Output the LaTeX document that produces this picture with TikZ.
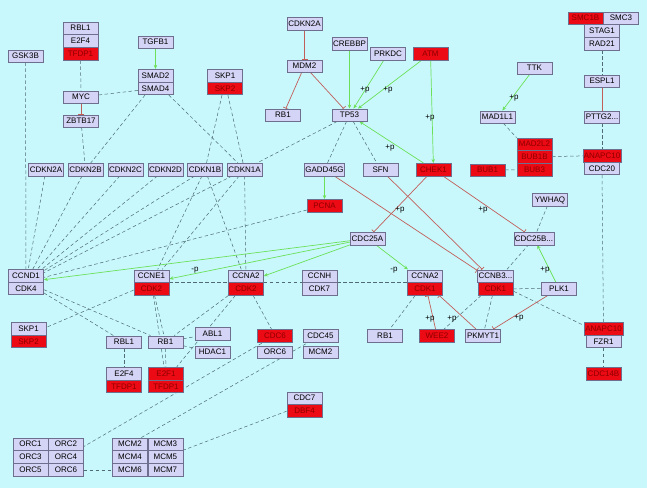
\documentclass[tikz,border=0pt]{standalone}
\usepackage{fontspec}
\setmainfont{Liberation Sans}
\usetikzlibrary{arrows.meta,positioning,fit,backgrounds}
\definecolor{PageCyan}{HTML}{C8F8FC}
\definecolor{GeneFill}{HTML}{D4D4F6}
\definecolor{GeneEdge}{HTML}{6E6E8E}
\definecolor{HitRed}{HTML}{EC0A14}
\definecolor{HitText}{HTML}{8E0000}
\definecolor{ActGreen}{HTML}{6CE058}
\definecolor{InhRed}{HTML}{C25E5A}
\definecolor{LinkGray}{HTML}{4E6C72}

\begin{document}
\begin{tikzpicture}[x=1pt,y=-1pt,
  gene/.style={rectangle,draw=GeneEdge,fill=GeneFill,minimum width=35pt,
               minimum height=12.5pt,inner sep=1pt,text height=5.8pt,
               text depth=0pt,font=\fontsize{8}{9}\selectfont},
  hit/.style={gene,fill=HitRed,text=HitText},
  cplx/.style={rectangle,inner sep=0pt},
  link/.style={LinkGray,dash pattern=on 3.5pt off 2.5pt,line width=0.5pt},
  act/.style={-{Stealth[length=4pt,width=3.5pt]},ActGreen,line width=0.7pt},
  inh/.style={-{Bar[width=6pt]},InhRed,line width=0.7pt},
  plab/.style={font=\fontsize{8}{9}\selectfont,inner sep=0pt}]
\useasboundingbox (0,0) rectangle (647,488);
% upper left
\node[gene] (gskB) at (25.5,56) {GSK3B};
\node[gene] (rblA) at (80.5,28) {RBL1};
\node[gene,below=0pt of rblA] (etfA) {E2F4};
\node[hit,below=0pt of etfA] (tfdpA) {TFDP1};
\node[gene] (tgfb) at (155.5,42) {TGFB1};
\node[gene] (smadB) at (155.5,75.5) {SMAD2};
\node[gene,below=0pt of smadB] (smadD) {SMAD4};
\node[gene] (myc) at (81,97) {MYC};
\node[gene] (zbtb) at (81,121) {ZBTB17};
\node[gene] (skpA) at (225,75.5) {SKP1};
\node[hit,below=0pt of skpA] (skpB) {SKP2};
% upper centre
\node[gene] (cdknT) at (304.5,23.5) {CDKN2A};
\node[gene] (mdm) at (304.5,66) {MDM2};
\node[gene] (rbT) at (283,115) {RB1};
\node[gene] (crebbp) at (349.5,43.5) {CREBBP};
\node[gene] (prkdc) at (388,53.5) {PRKDC};
\node[hit] (atm) at (430.5,53.5) {ATM};
\node[gene] (tp53) at (349.5,115) {TP53};
% upper right
\node[gene] (ttk) at (534.5,68) {TTK};
\node[gene] (mad1) at (497.5,117) {MAD1L1};
\node[hit] (mad2) at (534.5,144) {MAD2L2};
\node[hit,below=0pt of mad2] (bub1b) {BUB1B};
\node[hit,below=0pt of bub1b] (bub3) {BUB3};
\node[hit] (bub1) at (487.5,170) {BUB1};
\node[hit] (smc1b) at (585.5,18) {SMC1B};
\node[gene,right=0pt of smc1b] (smc3) {SMC3};
\node[gene] (stag) at (602,30.9) {STAG1};
\node[gene,below=0pt of stag] (rad) {RAD21};
\node[gene] (espl) at (602,81) {ESPL1};
\node[gene] (pttg) at (602,117) {PTTG2...};
\node[hit] (apcA) at (602,155.5) {ANAPC10};
\node[gene,below=0pt of apcA] (cdc20) {CDC20};
% inhibitor row
\foreach \nm/\xx in {2A/46,2B/85.5,2C/125.5,2D/165.5,1B/205,1A/244.5}
  \node[gene] (cdkn\nm) at (\xx,169.5) {CDKN\nm};
\node[gene] (gadd) at (324.5,169.5) {GADD45G};
\node[gene] (sfn) at (380.5,169.5) {SFN};
\node[hit] (chek) at (433.5,169.5) {CHEK1};
\node[hit] (pcna) at (324.5,205.5) {PCNA};
\node[gene] (ywhaq) at (550,199.5) {YWHAQ};
\node[gene] (cdc25a) at (367.5,238.5) {CDC25A};
\node[gene] (cdc25b) at (534,238.5) {CDC25B...};
% cyclin row
\node[gene] (ccnd) at (26,275.5) {CCND1};
\node[gene,below=0pt of ccnd] (cdk4) {CDK4};
\node[gene] (ccne) at (151.5,276) {CCNE1};
\node[hit,below=0pt of ccne] (cdk2E) {CDK2};
\node[gene] (ccnaL) at (246,276) {CCNA2};
\node[hit,below=0pt of ccnaL] (cdk2A) {CDK2};
\node[gene] (ccnh) at (319.5,276) {CCNH};
\node[gene,below=0pt of ccnh] (cdk7) {CDK7};
\node[gene] (ccnaR) at (425,276) {CCNA2};
\node[hit,below=0pt of ccnaR] (cdk1A) {CDK1};
\node[gene] (ccnb) at (495.5,276) {CCNB3...};
\node[hit,below=0pt of ccnb] (cdk1B) {CDK1};
\node[gene] (plk) at (559,288.5) {PLK1};
% lower part
\node[gene] (skpC) at (28.5,328.5) {SKP1};
\node[hit,below=0pt of skpC] (skpD) {SKP2};
\node[gene] (rblB) at (124,342) {RBL1};
\node[gene] (rbL) at (165.5,342) {RB1};
\node[gene] (abl) at (212.5,333.5) {ABL1};
\node[gene] (hdac) at (212.5,352) {HDAC1};
\node[hit] (cdc6) at (275,335.5) {CDC6};
\node[gene] (orc6) at (275,352) {ORC6};
\node[gene] (cdc45) at (320.5,335.5) {CDC45};
\node[gene] (mcm2) at (320.5,352) {MCM2};
\node[gene] (rbR) at (385,335.5) {RB1};
\node[hit] (wee) at (437,335.5) {WEE2};
\node[gene] (pkmyt) at (483,335.5) {PKMYT1};
\node[hit] (apcB) at (603.5,328.5) {ANAPC10};
\node[gene,below=0pt of apcB] (fzr) {FZR1};
\node[hit] (cdc14) at (603.5,373.5) {CDC14B};
\node[gene] (etfB) at (124,373.5) {E2F4};
\node[hit,below=0pt of etfB] (tfdpB) {TFDP1};
\node[hit] (etfC) at (166,373.5) {E2F1};
\node[hit,below=0pt of etfC] (tfdpC) {TFDP1};
\node[gene] (cdc7) at (304.5,398) {CDC7};
\node[hit,below=0pt of cdc7] (dbf) {DBF4};
% ORC and MCM blocks
\node[gene] (orcA) at (30.5,444) {ORC1};
\node[gene,right=0pt of orcA] (orcB) {ORC2};
\node[gene,below=0pt of orcA] (orcC) {ORC3};
\node[gene,right=0pt of orcC] (orcD) {ORC4};
\node[gene,below=0pt of orcC] (orcE) {ORC5};
\node[gene,right=0pt of orcE] (orcF) {ORC6};
\node[gene] (mcmA) at (130,444) {MCM2};
\node[gene,right=0pt of mcmA] (mcmB) {MCM3};
\node[gene,below=0pt of mcmA] (mcmC) {MCM4};
\node[gene,right=0pt of mcmC] (mcmD) {MCM5};
\node[gene,below=0pt of mcmC] (mcmE) {MCM6};
\node[gene,right=0pt of mcmE] (mcmF) {MCM7};
% complexes
\node[cplx,fit=(rblA)(tfdpA)] (cxRbl) {};
\node[cplx,fit=(smadB)(smadD)] (cxSmad) {};
\node[cplx,fit=(skpA)(skpB)] (cxSkpT) {};
\node[cplx,fit=(mad2)(bub3)] (cxBub) {};
\node[cplx,fit=(ccnd)(cdk4)] (cxD) {};
\node[cplx,fit=(ccne)(cdk2E)] (cxE) {};
\node[cplx,fit=(ccnaL)(cdk2A)] (cxAL) {};
\node[cplx,fit=(ccnh)(cdk7)] (cxH) {};
\node[cplx,fit=(ccnaR)(cdk1A)] (cxAR) {};
\node[cplx,fit=(ccnb)(cdk1B)] (cxB) {};
\node[cplx,fit=(skpC)(skpD)] (cxSkpL) {};
\node[cplx,fit=(apcB)(fzr)] (cxApc) {};
\node[cplx,fit=(etfB)(tfdpB)] (cxE2f4) {};
\node[cplx,fit=(etfC)(tfdpC)] (cxE2f1) {};
\node[cplx,fit=(cdc7)(dbf)] (cx7) {};
% labels
\node[plab] (pPrk) at (365,90) {+p};
\node[plab] (pAtmT) at (388,90) {+p};
\node[plab] (pAtmC) at (430,118) {+p};
\node[plab] (pChkT) at (390,148) {+p};
\node[plab] (pTtk) at (514,98) {+p};
\node[plab] (pChkA) at (400,210) {+p};
\node[plab] (pChkB) at (483,210) {+p};
\node[plab] (pPlk) at (545,270) {+p};
\node[plab] (mE) at (195,270) {-p};
\node[plab] (mR) at (394,270) {-p};
\node[plab] (pWee) at (430,319) {+p};
\node[plab] (pCnb) at (452,319) {+p};
\node[plab] (pPkm) at (519,318) {+p};
\begin{scope}[on background layer]
\fill[PageCyan] (0,0) rectangle (647,488);
% associations
\draw[link] (gskB) -- (cxD);
\draw[link] (tfdpA) -- (myc);
\draw[link] (myc) -- (smadD);
\draw[link] (zbtb) -- (cdkn2B);
\draw[link] (cxSmad) -- (cdkn2B);
\draw[link] (cxSmad) -- (cdkn1A);
\draw[link] (cxSkpT) -- (cdkn1B);
\draw[link] (cxSkpT) -- (cdkn1A);
\draw[link] (tp53) -- (cdkn1A);
\draw[link] (tp53) -- (gadd);
\draw[link] (tp53) -- (sfn);
\foreach \nm in {2A,2B,2C,2D,1B,1A}
  \draw[link] (cdkn\nm) -- (cxD);
\draw[link] (cdkn1B) -- (cxE);
\draw[link] (cdkn1A) -- (cxE);
\draw[link] (cdkn1B) -- (cxAL);
\draw[link] (cdkn1A) -- (cxAL);
\draw[link] (pcna) -- (cxD);
\draw[link] (cxD) -- (rblB);
\draw[link] (cxD) -- (rbL);
\draw[link] (cxE) -- (cxSkpL);
\draw[link] (cxE) -- (cxAL);
\draw[link] (cxE) -- (rbL);
\draw[link] (cxE) -- (cxE2f1);
\draw[link] (cxAL) -- (rbL);
\draw[link] (cxAL) -- (cxE2f1);
\draw[link] (cxAL) -- (cxH);
\draw[link] (cxH) -- (cxAR);
\draw[link] (cxAL) -- (cdc6);
\draw[link] (rbL) -- (abl);
\draw[link] (rbL) -- (hdac);
\draw[link] (rbL) -- (cxE2f1);
\draw[link] (rblB) -- (cxE2f4);
\draw[link] (cxAR) -- (rbR);
\draw[link] (cxB) -- (wee);
\draw[link] (cxB) -- (pkmyt);
\draw[link] (cdk1B) -- (plk);
\draw[link] (cxB) -- (cdc25b);
\draw[link] (ywhaq) -- (cdc25b);
\draw[link] (cxB) -- (cxApc);
\draw[link] (mad1) -- (cxBub);
\draw[link] (bub1b) -- (apcA);
\draw[link] (bub1) -- (bub3);
\draw[link] (rad) -- (espl);
\draw[link] (pttg) -- (apcA);
\draw[link] (cdc20) -- (cxApc);
\draw[link] (fzr) -- (cdc14);
\draw[link] (orcD) -- (cdc6);
\draw[link] (mcmA) -- (cdc45);
\draw[link] (orcF) -- (mcmE);
\draw[link] (mcmD) -- (cx7);
% activations
\draw[act] (tgfb) -- (cxSmad);
\draw[act] (crebbp) -- (tp53);
\draw[act] (prkdc) -- (tp53);
\draw[act] (atm) -- (tp53);
\draw[act] (atm) -- (chek);
\draw[act] (chek) -- (tp53);
\draw[act] (ttk) -- (mad1);
\draw[act] (gadd) -- (pcna);
\draw[act] (cdc25a) -- (cxD);
\draw[act] (cdc25a) -- (cxE);
\draw[act] (cdc25a) -- (cxAL);
\draw[act] (cdc25a) -- (cxAR);
\draw[act] (plk) -- (cdc25b);
% inhibitions
\draw[inh] (myc) -- (zbtb);
\draw[inh] (cdknT) -- (mdm);
\draw[inh] (mdm) -- (rbT);
\draw[inh] (mdm) -- (tp53);
\draw[inh] (pttg) -- (espl);
\draw[inh] (chek) -- (cdc25a);
\draw[inh] (chek) -- (cdc25b);
\draw[inh] (gadd) -- (cxB);
\draw[inh] (sfn) -- (cxB);
\draw[inh] (wee) -- (cxAR);
\draw[inh] (pkmyt) -- (cxAR);
\draw[inh] (plk) -- (pkmyt);
\end{scope}
\end{tikzpicture}
\end{document}
